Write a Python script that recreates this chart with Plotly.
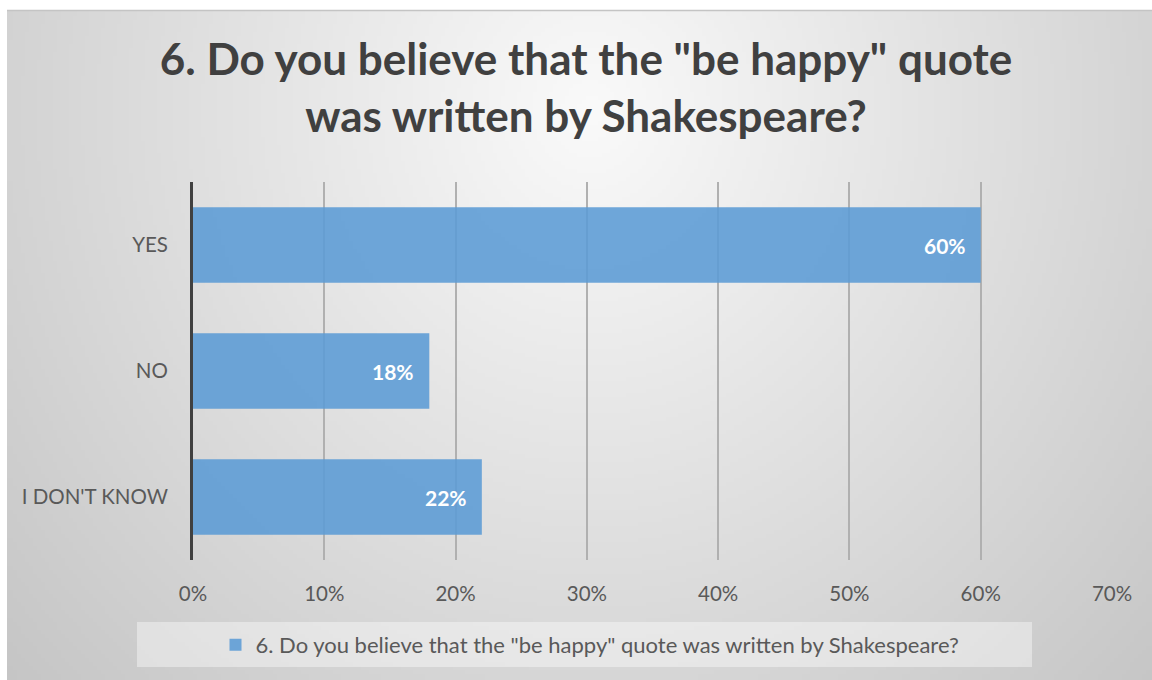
import base64
import struct
import zlib

import numpy as np
import plotly.graph_objects as go

# Survey results
categories = ["I DON'T KNOW", "NO", "YES"]
shares = [0.22, 0.18, 0.60]
series_name = '6. Do you believe that the "be happy" quote was written by Shakespeare?'
chart_title = '6. Do you believe that the "be happy" quote<br>was written by Shakespeare?'
tick_values = [0, 0.1, 0.2, 0.3, 0.4, 0.5, 0.6, 0.7]

W, H = 1152, 680
M_L, M_R, M_T, M_B = 193, 40, 182, 120
PLOT_W = W - M_L - M_R
PLOT_H = H - M_T - M_B


def px_x(px):
    return (px - M_L) / PLOT_W


def px_y(py):
    return (H - M_B - py) / PLOT_H


def png_data_uri(gray):
    """Encode a 2-D uint8 array as a greyscale PNG data URI."""
    h, w = gray.shape
    raw = b"".join(b"\x00" + gray[r].tobytes() for r in range(h))

    def chunk(tag, data):
        body = tag + data
        return struct.pack(">I", len(data)) + body + struct.pack(">I", zlib.crc32(body) & 0xFFFFFFFF)

    png = b"\x89PNG\r\n\x1a\n"
    png += chunk(b"IHDR", struct.pack(">IIBBBBB", w, h, 8, 0, 0, 0, 0))
    png += chunk(b"IDAT", zlib.compress(raw, 9))
    png += chunk(b"IEND", b"")
    return "data:image/png;base64," + base64.b64encode(png).decode()


# Radial grey backdrop, lightest behind the title
BG_X0, BG_Y0 = 7, 10
bg_w, bg_h = W - BG_X0, H - BG_Y0
scale = 4
gx = (np.arange(bg_w // scale) + 0.5) * scale + BG_X0
gy = (np.arange(bg_h // scale) + 0.5) * scale + BG_Y0
XX, YY = np.meshgrid(gx, gy)
dist = np.sqrt(((XX - 590) / 570) ** 2 + ((YY - 110) / 610) ** 2)
gray = np.clip(250 - 38 * dist, 150, 255).astype(np.uint8)
bg_uri = png_data_uri(gray)

BAR_COLOR = "rgba(91,155,213,0.88)"
TEXT_GREY = "#595959"
FONT = "Lato"

fig = go.Figure()
fig.add_trace(
    go.Bar(
        x=shares,
        y=categories,
        orientation="h",
        name=series_name,
        marker=dict(color=BAR_COLOR, line=dict(width=0)),
        hoverinfo="skip",
    )
)

# Value labels at the inner end of each bar
annotations = [
    dict(
        x=v,
        y=c,
        xref="x",
        yref="y",
        text=f"{round(v * 100)}%",
        showarrow=False,
        xanchor="right",
        yanchor="middle",
        xshift=-13,
        font=dict(family=FONT, size=21, color="white", weight="bold"),
    )
    for c, v in zip(categories, shares)
]

fig.update_layout(
    width=W,
    height=H,
    margin=dict(l=M_L, r=M_R, t=M_T, b=M_B),
    paper_bgcolor="white",
    plot_bgcolor="rgba(0,0,0,0)",
    font=dict(family=FONT, color=TEXT_GREY),
    title=dict(
        text=chart_title,
        x=586 / W,
        xanchor="center",
        y=1 - 75 / H,
        yanchor="top",
        font=dict(family=FONT, size=44, color="#404040", weight="bold"),
    ),
    bargap=0.4,
    xaxis=dict(
        range=[0, 0.7],
        tickvals=tick_values,
        tickformat=".0%",
        showgrid=True,
        gridcolor="#B0B0B0",
        gridwidth=1.5,
        zeroline=False,
        showline=False,
        ticks="",
        ticklabelstandoff=19,
        tickfont=dict(family=FONT, size=20.5, color=TEXT_GREY),
        fixedrange=True,
    ),
    yaxis=dict(
        categoryorder="array",
        categoryarray=categories,
        showgrid=False,
        zeroline=False,
        showline=True,
        linecolor="#404040",
        linewidth=3,
        ticks="",
        ticklabelstandoff=18,
        tickfont=dict(family=FONT, size=20.5, color=TEXT_GREY),
        fixedrange=True,
    ),
    showlegend=True,
    legend=dict(
        orientation="h",
        x=px_x(590),
        xanchor="center",
        y=px_y(645),
        yanchor="middle",
        bgcolor="rgba(0,0,0,0)",
        font=dict(family=FONT, size=22, color=TEXT_GREY),
    ),
    images=[
        dict(
            source=bg_uri,
            xref="paper",
            yref="paper",
            x=px_x(BG_X0),
            y=px_y(BG_Y0),
            sizex=bg_w / PLOT_W,
            sizey=bg_h / PLOT_H,
            xanchor="left",
            yanchor="top",
            sizing="stretch",
            layer="below",
        )
    ],
    shapes=[
        dict(
            type="line",
            xref="paper",
            yref="paper",
            x0=px_x(BG_X0),
            x1=px_x(W),
            y0=px_y(BG_Y0 + 0.5),
            y1=px_y(BG_Y0 + 0.5),
            line=dict(color="#C4C4C4", width=1.5),
            layer="below",
        ),
        dict(
            type="rect",
            xref="paper",
            yref="paper",
            x0=px_x(137),
            x1=px_x(1032),
            y0=px_y(667),
            y1=px_y(622),
            fillcolor="rgba(255,255,255,0.4)",
            line=dict(width=0),
            layer="below",
        ),
    ],
    annotations=annotations,
)

fig.write_html("out.html", config={"displayModeBar": False})
